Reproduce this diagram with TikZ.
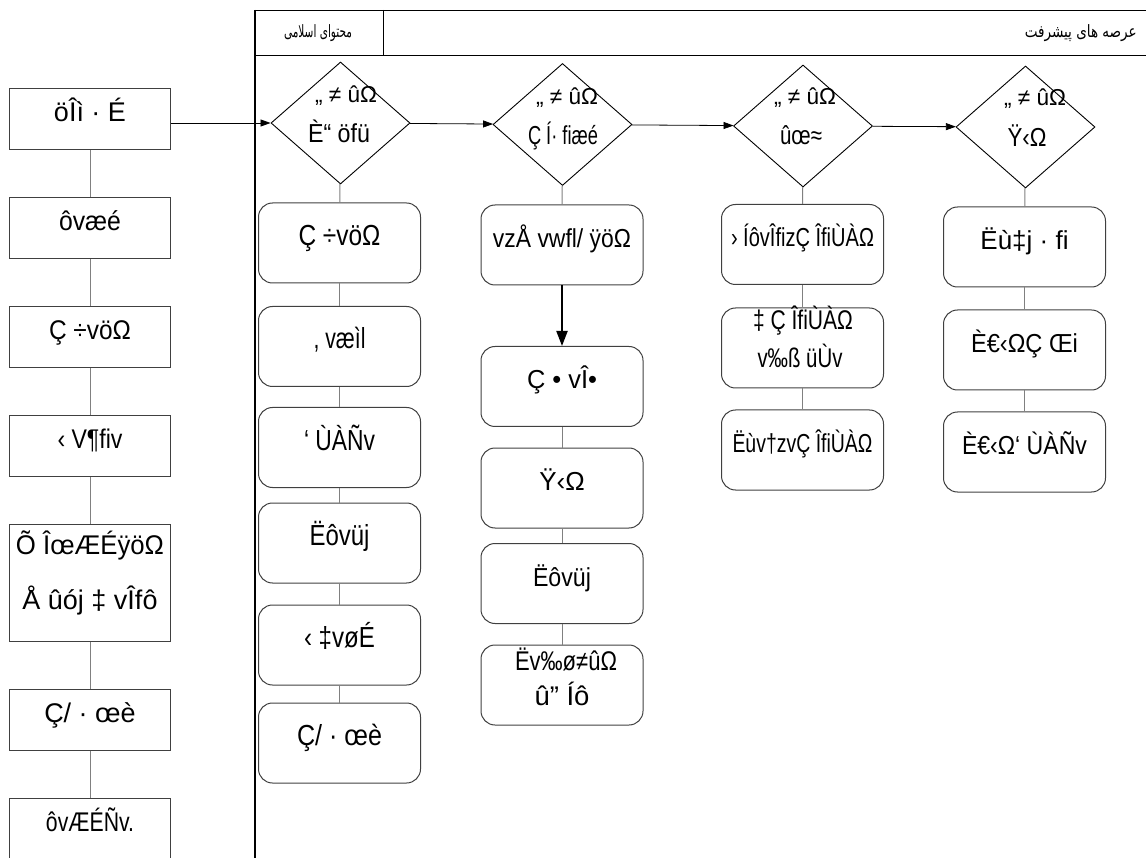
\documentclass[tikz,border=0pt]{standalone}
\usepackage{fontspec}
\setmainfont{Liberation Sans}
\newfontfamily\arabicfont[Script=Arabic]{DejaVu Sans}
\TeXXeTstate=1
\usetikzlibrary{shapes.geometric,arrows.meta}
\definecolor{boxgray}{HTML}{404040}
\definecolor{linegray}{HTML}{808080}
% ancho fijo del texto
\newcommand{\fitw}[2]{\resizebox{#1pt}{\height}{#2}}
\tikzset{
  every node/.style={inner sep=0pt},
  sqbox/.style={draw=boxgray, line width=1pt, minimum width=161, minimum height=61,
    font=\fontsize{27}{30}\selectfont, text height=14pt, text depth=9pt},
  rbox/.style={draw=boxgray, line width=1pt, rounded corners=14, minimum width=162, minimum height=80,
    font=\fontsize{26}{29}\selectfont, text height=14pt, text depth=9pt},
  bigtxt/.style={font=\fontsize{29}{32}\selectfont},
  linetxt/.style={anchor=base, font=\fontsize{27}{30}\selectfont},
  dia/.style={draw, diamond, line width=0.9pt, minimum width=139, minimum height=122},
  dtop/.style={anchor=base, font=\fontsize{23}{26}\selectfont},
  dbot/.style={anchor=base, font=\fontsize{26}{29}\selectfont},
  head/.style={font=\arabicfont\fontsize{17}{19}\selectfont},
  link/.style={linegray, line width=1pt},
  flow/.style={-{Triangle[length=10pt,width=7pt]}, line width=0.8pt},
  bigflow/.style={-{Triangle[length=15pt,width=11pt]}, line width=2pt}
}
\begin{document}
\begin{tikzpicture}[x=1pt,y=-1pt]
  \useasboundingbox (0,0) rectangle (1146,858);

  % Tabla
  \draw[line width=1.6pt] (255,10) -- (255,858);
  \draw (255,10) -- (1146,10);
  \draw (255,55) -- (1146,55);
  \draw (383,10) -- (383,55);
  \node[head] (h1) at (318,33) {\fitw{68}{\beginR محتوای اسلامی\endR}};
  \node[head, anchor=east] (h2) at (1137,33) {\fitw{112}{\beginR عرصه های پیشرفت\endR}};

  % Columna izquierda
  \node[sqbox] (l1) at (90,119.5) {öÎì · É};
  \node[sqbox] (l2) at (90,228.5) {\fitw{62}{ôvæé}};
  \node[sqbox] (l3) at (90,337) {\fitw{82}{Ç ÷vöΩ}};
  \node[sqbox] (l4) at (90,446) {\fitw{65}{‹ V¶fiv}};
  \node[sqbox, minimum height=117] (l5) at (90,582.5) {};
  \node[linetxt] (l5a) at (90,554) {\fitw{148}{Õ ÎœÆÉÿöΩ}};
  \node[linetxt] (l5b) at (90,609) {Å ûój ‡ vÎfô};
  \node[sqbox] (l6) at (90,719.5) {Ç/ · œè};
  \node[sqbox] (l7) at (90,828.5) {\fitw{88}{ôvÆÉÑv.}};
  \draw[link] (l1) -- (l2);
  \draw[link] (l2) -- (l3);
  \draw[link] (l3) -- (l4);
  \draw[link] (l4) -- (l5);
  \draw[link] (l5) -- (l6);
  \draw[link] (l6) -- (l7);

  % Rombos
  \node[dia] (d1) at (340.5,123) {};
  \node[dtop] (d1a) at (346,103) {\fitw{62}{„ ≠ ûΩ}};
  \node[dbot] (d1b) at (339,143) {\fitw{62}{È“ öfü}};
  \node[dia] (d2) at (562.5,124.5) {};
  \node[dtop] (d2a) at (567,105) {\fitw{62}{„ ≠ ûΩ}};
  \node[dbot] (d2b) at (563,145) {\fitw{70}{Ç Í· fiæé}};
  \node[dia] (d3) at (803,126) {};
  \node[dtop] (d3a) at (805,105) {\fitw{62}{„ ≠ ûΩ}};
  \node[dbot] (d3b) at (801,145) {\fitw{42}{ûœ≈}};
  \node[dia] (d4) at (1025.5,127) {};
  \node[dtop] (d4a) at (1035,106) {\fitw{62}{„ ≠ ûΩ}};
  \node[dbot] (d4b) at (1027,147) {\fitw{39}{Ÿ‹Ω}};
  \draw[flow] (l1.east |- d1.west) -- (d1.west);
  \draw[flow] (d1) -- (d2);
  \draw[flow] (d2) -- (d3);
  \draw[flow] (d3) -- (d4);

  % Columna 1
  \node[rbox, bigtxt] (a1) at (339.5,243) {\fitw{82}{Ç ÷vöΩ}};
  \node[rbox, bigtxt] (a2) at (339.5,346.5) {\fitw{52}{, væìl}};
  \node[rbox, bigtxt] (a3) at (339.5,447.5) {\fitw{71}{‘ ÙÀÑv}};
  \node[rbox, bigtxt] (a4) at (339.5,543) {\fitw{60}{Ëôvüj}};
  \node[rbox, bigtxt] (a5) at (339.5,645) {\fitw{71}{‹ ‡vøÉ}};
  \node[rbox, bigtxt] (a6) at (339.5,743) {\fitw{85}{Ç/ · œè}};
  \draw[link] (d1) -- (a1);
  \draw[link] (a1) -- (a2);
  \draw[link] (a2) -- (a3);
  \draw[link] (a3) -- (a4);
  \draw[link] (a4) -- (a5);
  \draw[link] (a5) -- (a6);

  % Columna 2
  \node[rbox] (b1) at (562,245) {\fitw{138}{vzÅ vwfl/ ÿöΩ}};
  \node[rbox] (b2) at (562,386.5) {\fitw{70}{Ç • vÎ•}};
  \node[rbox] (b3) at (562,488) {Ÿ‹Ω};
  \node[rbox] (b4) at (562,583.5) {\fitw{58}{Ëôvüj}};
  \node[rbox] (b5) at (562,685) {};
  \node[linetxt] (b5a) at (566,670) {\fitw{102}{Ëv‰ø≠ûΩ}};
  \node[linetxt] (b5b) at (562,705) {\fitw{55}{û” Íô}};
  \draw[link] (d2) -- (b1);
  \draw[bigflow] (b1) -- (b2);
  \draw[link] (b2) -- (b3);
  \draw[link] (b3) -- (b4);
  \draw[link] (b4) -- (b5);

  % Columna 3
  \node[rbox] (c1) at (802.5,244.5) {\fitw{143}{› ÍôvÎfizÇ ÎfiÙÀΩ}};
  \node[rbox] (c2) at (802.5,348) {};
  \node[linetxt] (c2a) at (803,330) {\fitw{100}{‡ Ç ÎfiÙÀΩ}};
  \node[linetxt] (c2b) at (800,368) {\fitw{85}{v‰ß üÙv}};
  \node[rbox] (c3) at (802.5,450) {\fitw{140}{Ëùv†zvÇ ÎfiÙÀΩ}};
  \draw[link] (d3) -- (c1);
  \draw[link] (c1) -- (c2);
  \draw[link] (c2) -- (c3);

  % Columna 4
  \node[rbox] (e1) at (1024.5,247) {Ëù‡j · fi};
  \node[rbox] (e2) at (1024.5,350) {\fitw{107}{È€‹ΩÇ Œi}};
  \node[rbox] (e3) at (1024.5,452) {\fitw{125}{È€‹Ω‘ ÙÀÑv}};
  \draw[link] (d4) -- (e1);
  \draw[link] (e1) -- (e2);
  \draw[link] (e2) -- (e3);
\end{tikzpicture}
\end{document}
